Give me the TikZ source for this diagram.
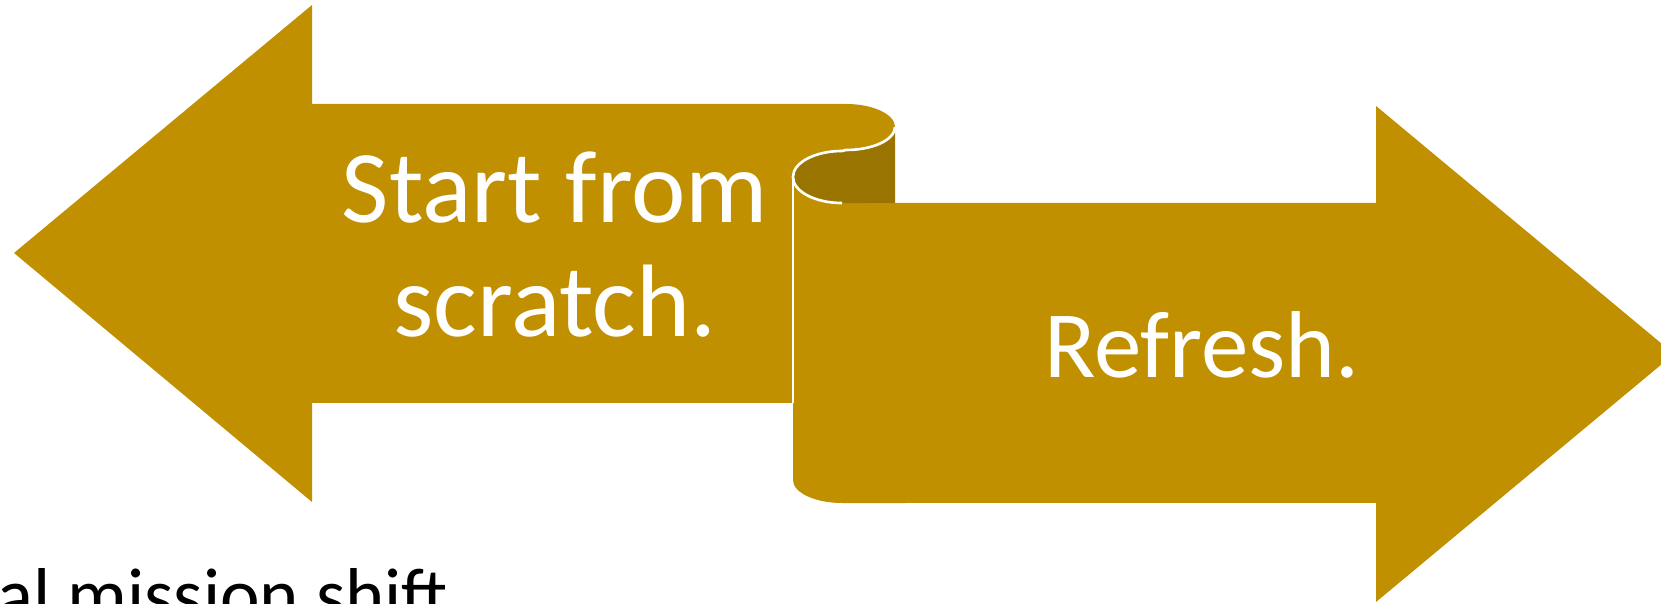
\documentclass[tikz,border=0pt]{standalone}
\usepackage{fontspec}
\setmainfont{Carlito}
\definecolor{gold}{HTML}{C09000}
\definecolor{darkgold}{HTML}{9A7400}
\begin{document}
\begin{tikzpicture}[x=0.01cm,y=0.01cm,
  txt/.style={text=white,inner sep=0pt,font=\fontsize{29.3}{34}\selectfont},
  edge/.style={white,line width=0.75pt}]
\useasboundingbox (0,0) rectangle (1661,604);
\clip (0,0) rectangle (1661,604);
% left arrow
\fill[gold] (14,351) -- (312,599) -- (312,500) -- (846,500)
  arc[start angle=90,end angle=-90,x radius=0.49cm,y radius=0.23cm]
  -- (846,415) -- (796,415) -- (796,201) -- (312,201) -- (312,102) -- cycle;
% right arrow (scroll body)
\fill[gold] (793,427) -- (793,124)
  arc[start angle=180,end angle=270,x radius=0.49cm,y radius=0.23cm]
  -- (1376,101) -- (1376,2) -- (1674,250) -- (1376,498) -- (1376,401) -- (842,401)
  arc[start angle=270,end angle=180,x radius=0.49cm,y radius=0.26cm] -- cycle;
% dark curl
\fill[darkgold] (895,477)
  arc[start angle=0,end angle=-90,x radius=0.49cm,y radius=0.23cm]
  -- (842,453)
  arc[start angle=90,end angle=270,x radius=0.49cm,y radius=0.26cm]
  -- (895,401) -- cycle;
% white edges
\draw[edge] (895,477)
  arc[start angle=0,end angle=-90,x radius=0.49cm,y radius=0.23cm]
  -- (842,453)
  arc[start angle=90,end angle=270,x radius=0.49cm,y radius=0.26cm];
\draw[edge] (793,427) -- (793,201);
% texts
\node[txt,anchor=base] (s1) at (555,381) {Start from};
\node[txt,anchor=base] (s2) at (555,267) {scratch.};
\node[txt,anchor=base,font=\fontsize{27}{32}\selectfont] (rf) at (1202,226) {Refresh.};
\node[anchor=base west,inner sep=0pt,font=\fontsize{21.3}{25}\selectfont] (ms) at (-3,-17) {al mission shift};
\end{tikzpicture}
\end{document}
